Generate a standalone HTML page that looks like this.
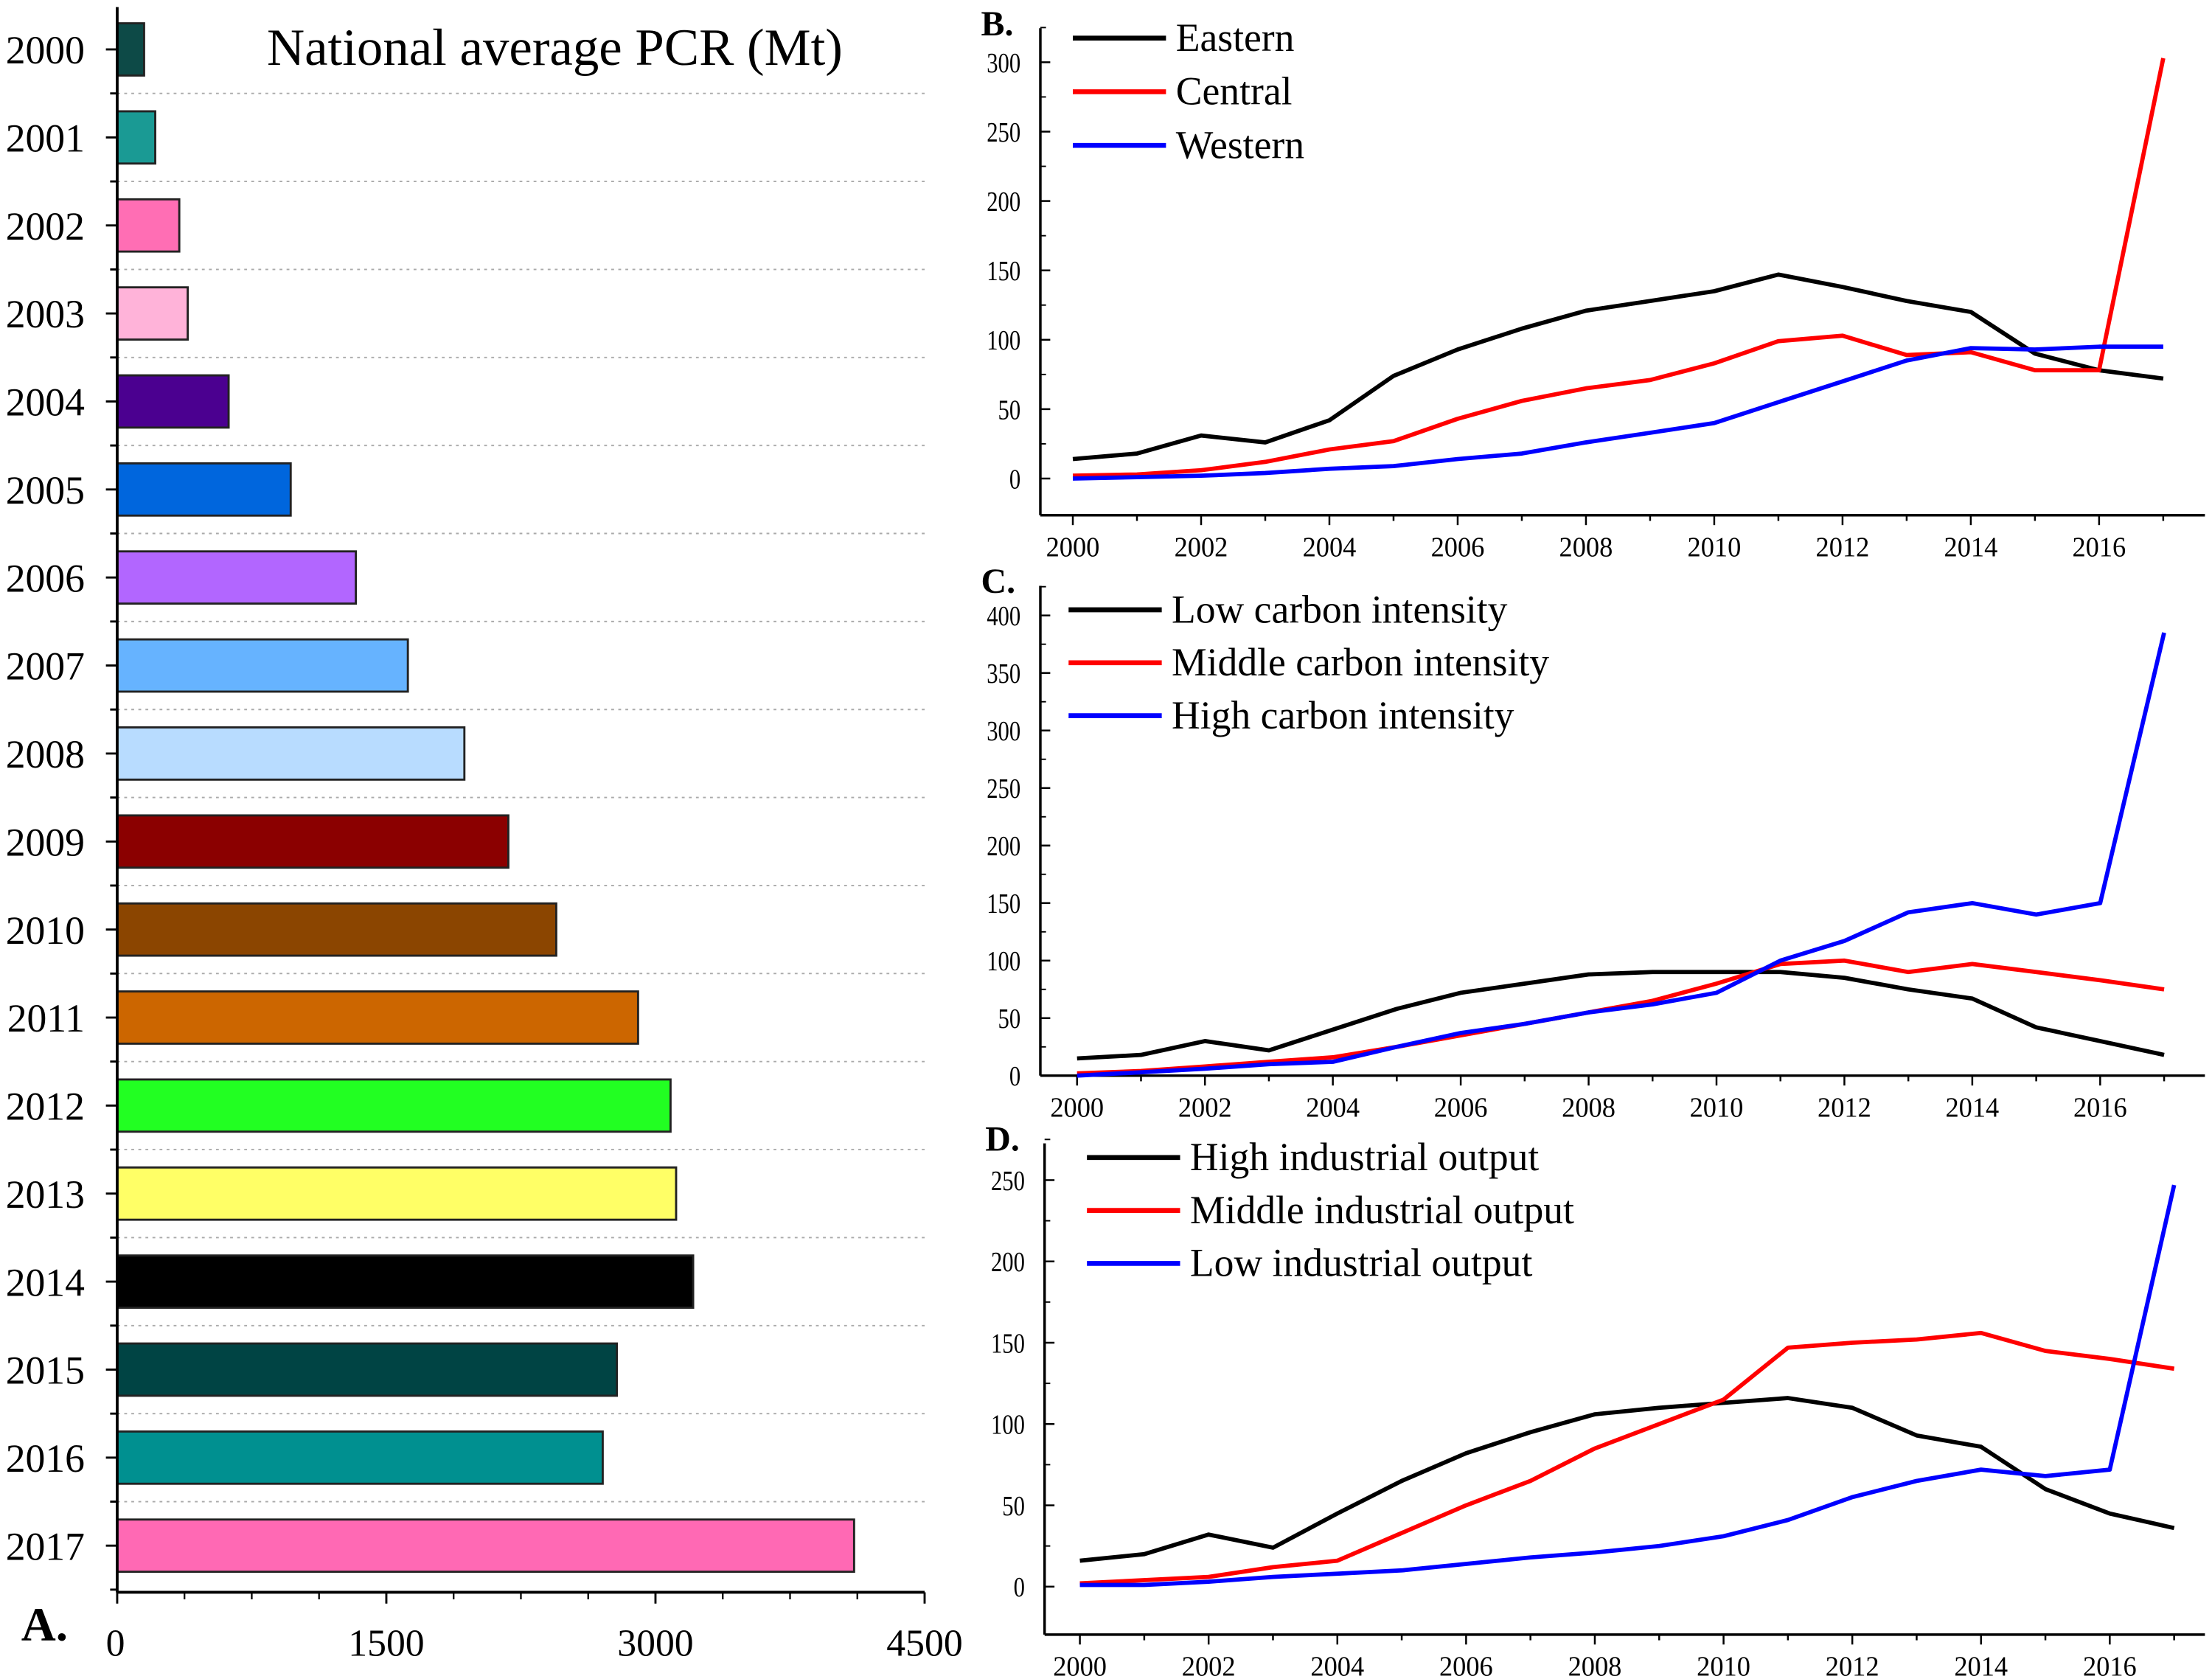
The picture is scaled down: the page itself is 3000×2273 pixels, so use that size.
<!DOCTYPE html>
<html><head><meta charset="utf-8"><style>
html,body{margin:0;padding:0;background:#fff;}
svg{display:block;font-family:"Liberation Serif",serif;}
</style></head><body>
<svg id="chart" width="3000" height="2273" viewBox="0 0 1567 1187.3" xmlns="http://www.w3.org/2000/svg"></svg>
<script>
const barYears=["2000","2001","2002","2003","2004","2005","2006","2007","2008","2009","2010","2011","2012","2013","2014","2015","2016","2017"];
const barValues=[150,212,346,393,621,967,1330,1620,1935,2180,2447,2903,3084,3115,3210,2785,2706,4107];
const barColors=["#0d4a47","#1a9a94","#ff6eb4","#ffb3d9","#4b0090","#0066dd","#b266ff","#66b3ff","#b8dcff","#8b0000","#8b4500","#cc6600","#22ff22","#ffff66","#000000","#004444","#009090","#ff69b4"];
const barTicks=[0,1500,3000,4500];
const lineYears=[2000,2001,2002,2003,2004,2005,2006,2007,2008,2009,2010,2011,2012,2013,2014,2015,2016,2017];
const yearTicks=[2000,2002,2004,2006,2008,2010,2012,2014,2016];
const bEastern=[14,18,31,26,42,74,93,108,121,128,135,147,138,128,120,90,78,72];
const bCentral=[2,3,6,12,21,27,43,56,65,71,83,99,103,89,91,78,78,303];
const bWestern=[0,1,2,4,7,9,14,18,26,33,40,55,70,85,94,93,95,95];
const cLow=[15,18,30,22,40,58,72,80,88,90,90,90,85,75,67,42,30,18];
const cMiddle=[2,4,8,12,16,25,35,45,55,65,80,97,100,90,97,90,83,75];
const cHigh=[0,3,6,10,12,25,37,45,55,62,72,100,117,142,150,140,150,385];
const dHigh=[16,20,32,24,45,65,82,95,106,110,113,116,110,93,86,60,45,36];
const dMiddle=[2,4,6,12,16,33,50,65,85,100,115,147,150,152,156,145,140,134];
const dLow=[1,1,3,6,8,10,14,18,21,25,31,41,55,65,72,68,72,247];
const bTicks=[0,50,100,150,200,250,300];
const cTicks=[0,50,100,150,200,250,300,350,400];
const dTicks=[0,50,100,150,200,250];

const NS="http://www.w3.org/2000/svg";
const svg=document.getElementById('chart');
function mk(tag,attrs,parent,text){const e=document.createElementNS(NS,tag);for(const k in attrs)e.setAttribute(k,attrs[k]);if(text!==undefined)e.textContent=text;(parent||svg).appendChild(e);return e;}

// ---- Panel A ----
const gA=mk('g',{});


const ax0=83, ax1=655, aMax=4500;
const ay0=35, aStep=62.35, aH=37;
const xA=v=>ax0+v/aMax*(ax1-ax0);
const yA=i=>ay0+i*aStep;
for(let i=0;i<barYears.length-1;i++){
  const g=mk('line',{x1:ax0,x2:ax1,y1:yA(i)+aStep/2,y2:yA(i)+aStep/2,stroke:'#aaa','stroke-width':1,'stroke-dasharray':'2,3'},gA);
  
  
}
barYears.forEach((yr,i)=>{
  const r=mk('rect',{x:ax0,y:yA(i)-aH/2,width:xA(barValues[i])-ax0,height:aH,fill:barColors[i],stroke:'#222','stroke-width':1.5},gA);
  
  
  const t=mk('text',{x:60,y:yA(i)+10,'font-size':28,'text-anchor':'end'},gA,yr);
  
  
  mk('line',{x1:ax0-8,x2:ax0,y1:yA(i),y2:yA(i),stroke:'#000','stroke-width':1.5},gA);
  mk('line',{x1:ax0-5,x2:ax0,y1:yA(i)+aStep/2,y2:yA(i)+aStep/2,stroke:'#000','stroke-width':1.5},gA);
});
const aAxisY=1128;
mk('line',{x1:ax0,x2:ax0,y1:5,y2:aAxisY,stroke:'#000','stroke-width':2},gA);
mk('line',{x1:ax0,x2:ax1,y1:aAxisY,y2:aAxisY,stroke:'#000','stroke-width':2},gA);
barTicks.forEach(v=>{
  mk('line',{x1:xA(v),x2:xA(v),y1:aAxisY,y2:aAxisY+8,stroke:'#000','stroke-width':1.5},gA);
  const t=mk('text',{x:xA(v),y:1173,'font-size':27,'text-anchor':v===0?'start':'middle'},gA,String(v));
  if(v===0)t.setAttribute('x',xA(v)-8);
  
  
});
for(let v=375;v<aMax;v+=375){if(v%1500)mk('line',{x1:xA(v),x2:xA(v),y1:aAxisY,y2:aAxisY+5,stroke:'#000','stroke-width':1.2},gA);}
const at=mk('text',{x:393,y:46,'font-size':37,'text-anchor':'middle'},gA,'National average PCR (Mt)');


const al=mk('text',{x:15,y:1162,'font-size':34,'font-weight':'bold'},gA,'A.');



// ---- Line panels ----
function linePanel(cfg){
  const g=mk('g',{});
  
  
  const xS=yr=>cfg.x2000+(yr-2000)*cfg.perYear;
  const yS=v=>cfg.y0-v*cfg.perUnit;
  mk('line',{x1:cfg.axX,x2:cfg.axX,y1:cfg.top,y2:cfg.axY,stroke:'#000','stroke-width':1.8},g);
  mk('line',{x1:cfg.axX,x2:1562,y1:cfg.axY,y2:cfg.axY,stroke:'#000','stroke-width':1.8},g);
  cfg.yTicks.forEach(v=>{
    mk('line',{x1:cfg.axX,x2:cfg.axX+7,y1:yS(v),y2:yS(v),stroke:'#000','stroke-width':1.3},g);
    mk('line',{x1:cfg.axX,x2:cfg.axX+4,y1:yS(v+25),y2:yS(v+25),stroke:'#000','stroke-width':1},g);
    const t=mk('text',{x:cfg.axX-14,y:yS(v)+7,'font-size':20,'text-anchor':'end',textLength:String(v).length*8,lengthAdjust:'spacingAndGlyphs'},g,String(v));
    
    
  });
  lineYears.forEach(yr=>{mk('line',{x1:xS(yr),x2:xS(yr),y1:cfg.axY,y2:cfg.axY+(yr%2?4:7),stroke:'#000','stroke-width':1.3},g);});
  yearTicks.forEach(yr=>{
    const t=mk('text',{x:xS(yr),y:cfg.axY+29,'font-size':20,'text-anchor':'middle',textLength:38,lengthAdjust:'spacingAndGlyphs'},g,String(yr));
    
    
  });
  cfg.series.forEach((s,k)=>{
    const d=s.vals.map((v,i)=>(i?'L':'M')+xS(lineYears[i]).toFixed(1)+','+yS(v).toFixed(1)).join(' ');
    const p=mk('path',{d:d,fill:'none',stroke:s.color,'stroke-width':3,'stroke-linejoin':'round'},g);
    
    
    const ly=cfg.legY+k*cfg.legStep;
    const ll=mk('line',{x1:cfg.legX,x2:cfg.legX+66,y1:ly,y2:ly,stroke:s.color,'stroke-width':3.5},g);
    
    
    const lt=mk('text',{x:cfg.legX+73,y:ly+9,'font-size':28},g,s.label);
    
    
  });
  const pl=mk('text',{x:cfg.axX-42,y:cfg.top+5,'font-size':25,'font-weight':'bold'},g,cfg.letter);
  
  
}
linePanel({name:'panel-b-region',letter:'B.',axX:737,axY:365,top:20,x2000:760,perYear:45.44,y0:339,perUnit:0.983,yTicks:bTicks,legX:760,legY:27,legStep:38,
  series:[{id:'eastern',label:'Eastern',color:'#000',vals:bEastern},{id:'central',label:'Central',color:'#ff0000',vals:bCentral},{id:'western',label:'Western',color:'#0000ff',vals:bWestern}]});
linePanel({name:'panel-c-carbon-intensity',letter:'C.',axX:737,axY:762,top:415,x2000:763,perYear:45.3,y0:762,perUnit:0.815,yTicks:cTicks,legX:757,legY:432,legStep:37.5,
  series:[{id:'low-carbon',label:'Low carbon intensity',color:'#000',vals:cLow},{id:'middle-carbon',label:'Middle carbon intensity',color:'#ff0000',vals:cMiddle},{id:'high-carbon',label:'High carbon intensity',color:'#0000ff',vals:cHigh}]});
linePanel({name:'panel-d-industrial-output',letter:'D.',axX:740,axY:1158,top:810,x2000:765,perYear:45.6,y0:1124,perUnit:1.152,yTicks:dTicks,legX:770,legY:820,legStep:37.5,
  series:[{id:'high-industrial',label:'High industrial output',color:'#000',vals:dHigh},{id:'middle-industrial',label:'Middle industrial output',color:'#ff0000',vals:dMiddle},{id:'low-industrial',label:'Low industrial output',color:'#0000ff',vals:dLow}]});
</script>
</body></html>
